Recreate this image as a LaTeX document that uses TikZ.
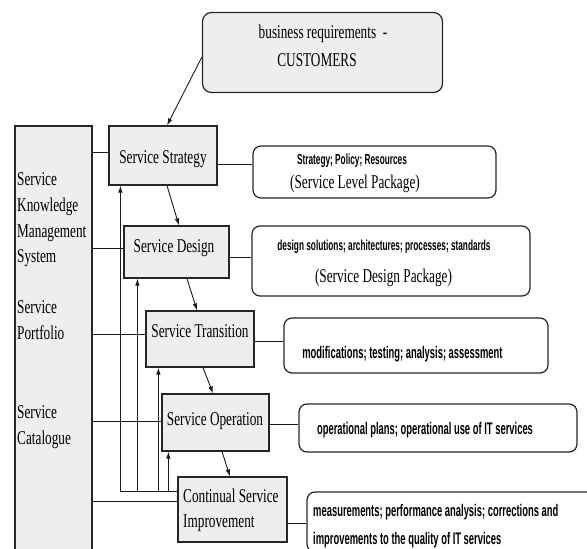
\documentclass[tikz,border=0pt]{standalone}
\usepackage{fontspec}
\setmainfont{Liberation Serif}[FakeStretch=0.68]
\newfontfamily\condsans{Liberation Sans}[FakeStretch=0.57]
\newfontfamily\narrowsans{Liberation Sans}[FakeStretch=0.56]
\usetikzlibrary{arrows.meta}
\definecolor{boxgray}{HTML}{EEEEEE}
\begin{document}
\begin{tikzpicture}[x=1pt,y=-1pt,
  frame/.style={draw=black!85, line width=1.2pt, inner sep=0pt},
  stagebox/.style={frame, fill=boxgray},
  infobox/.style={frame, fill=white, rounded corners=8pt},
  link/.style={draw=black!90, line width=0.9pt},
  arr/.style={link, -{Latex[length=7pt,width=4.5pt]}},
  serif/.style={inner sep=0pt, font=\fontsize{19.5}{26}\selectfont},
  boldinfo/.style={inner sep=0pt, font=\condsans\bfseries\fontsize{14.5}{18}\selectfont},
  plaininfo/.style={inner sep=0pt, font=\narrowsans\bfseries\fontsize{16.8}{20}\selectfont}]
\useasboundingbox (0,0) rectangle (587,549);
\begin{scope}
\clip (0,0) rectangle (587,549);

% customers and the left-hand knowledge column
\node[stagebox, rounded corners=9pt, minimum width=240pt, minimum height=80pt] (cust) at (322.5,52.5) {};
\node[stagebox, minimum width=77pt, minimum height=429pt] (skms) at (53.5,340.5) {};

% lifecycle stages
\node[stagebox, minimum width=108pt, minimum height=59pt] (strat)  at (163,155.5) {};
\node[stagebox, minimum width=105pt, minimum height=52pt] (design) at (176.5,252) {};
\node[stagebox, minimum width=108pt, minimum height=56pt] (trans)  at (200,339) {};
\node[stagebox, minimum width=107pt, minimum height=57pt] (oper)   at (215.5,422.5) {};
\node[stagebox, minimum width=109pt, minimum height=65pt] (csi)    at (232.5,509.5) {};

% outputs of each stage
\node[infobox, minimum width=243pt, minimum height=52pt] (sdet) at (374.5,172) {};
\node[infobox, minimum width=278pt, minimum height=70pt] (ddet) at (391,261) {};
\node[infobox, minimum width=264pt, minimum height=55pt] (tdet) at (416,345.5) {};
\node[infobox, minimum width=278pt, minimum height=48pt] (odet) at (438,428) {};
\node[infobox, minimum width=313pt, minimum height=60pt] (cdet) at (463.5,522) {};

% texts
\node[serif, anchor=base] (custa) at (323,38) {business requirements\ \ -};
\node[serif, anchor=base] (custb) at (317,66) {CUSTOMERS};

\node[serif, anchor=base west] (k1) at (17,185) {Service};
\node[serif, anchor=base west] (k2) at (17,211) {Knowledge};
\node[serif, anchor=base west] (k3) at (17,237) {Management};
\node[serif, anchor=base west] (k4) at (17,262) {System};
\node[serif, anchor=base west] (p1) at (17,313) {Service};
\node[serif, anchor=base west] (p2) at (17,339) {Portfolio};
\node[serif, anchor=base west] (c1) at (17,418) {Service};
\node[serif, anchor=base west] (c2) at (17,444) {Catalogue};

\node[serif, anchor=base] (tstrat)  at (163,163) {Service Strategy};
\node[serif, anchor=base] (tdesign) at (174,252) {Service Design};
\node[serif, anchor=base] (ttrans)  at (200,337) {Service Transition};
\node[serif, anchor=base] (toper)   at (215,425) {Service Operation};
\node[serif, anchor=base west] (tcsi1) at (183,502) {Continual Service};
\node[serif, anchor=base west] (tcsi2) at (183,527) {Improvement};

\node[boldinfo, anchor=base] (s1) at (352,164) {Strategy; Policy; Resources};
\node[serif, anchor=base] (s2) at (355,188) {(Service Level Package)};
\node[boldinfo, anchor=base] (d1) at (384,250) {design solutions; architectures; processes; standards};
\node[serif, anchor=base] (d2) at (383.5,282) {(Service Design Package)};
\node[plaininfo, anchor=base] (t1) at (402.5,358) {modifications; testing; analysis; assessment};
\node[plaininfo, anchor=base] (o1) at (425,434) {operational plans; operational use of IT services};
\node[plaininfo, anchor=base west] (m1) at (313,516) {measurements; performance analysis; corrections and};
\node[plaininfo, anchor=base west] (m2) at (313,544) {improvements to the quality of IT services};

% column to stages
\draw[link] ([yshift=3.5pt]strat.west) -- ([yshift=3.5pt]strat.west -| skms.east);
\draw[link] ([yshift=4pt]design.west) -- ([yshift=4pt]design.west -| skms.east);
\draw[link] ([yshift=5pt]trans.west) -- ([yshift=5pt]trans.west -| skms.east);
\draw[link] ([yshift=1.5pt]oper.west) -- ([yshift=1.5pt]oper.west -| skms.east);
\draw[link] ([yshift=8.5pt]csi.west) -- ([yshift=8.5pt]csi.west -| skms.east);

% stages to outputs
\draw[link] ([yshift=-8.5pt]strat.east) -- ([yshift=-8.5pt]strat.east -| sdet.west);
\draw[link] ([yshift=-5pt]design.east) -- ([yshift=-5pt]design.east -| ddet.west);
\draw[link] ([yshift=-2pt]trans.east) -- ([yshift=-2pt]trans.east -| tdet.west);
\draw[link] ([yshift=-1.5pt]oper.east) -- ([yshift=-1.5pt]oper.east -| odet.west);
\draw[link] ([yshift=-13.5pt]csi.east) -- ([yshift=-13.5pt]csi.east -| cdet.west);

% flow down the lifecycle
\draw[arr] ([yshift=-4.5pt]cust.west) -- ([xshift=4pt]strat.north);
\draw[arr] ([xshift=4pt]strat.south) -- ([xshift=2.5pt]design.north);
\draw[arr] ([xshift=10.5pt]design.south) -- ([xshift=-3pt]trans.north);
\draw[arr] ([xshift=3pt]trans.south) -- ([xshift=-2.5pt]oper.north);
\draw[arr] ([xshift=6.5pt]oper.south) -- ([xshift=-2.5pt]csi.north);

% feedback from improvement to every stage
\coordinate (fb) at ([yshift=18.5pt]csi.west);
\coordinate (fbs) at ([xshift=12pt]strat.south west);
\coordinate (fbd) at ([xshift=14pt]design.south west);
\coordinate (fbt) at ([xshift=13pt]trans.south west);
\coordinate (fbo) at ([xshift=7pt]oper.south west);
\draw[arr] (fb) -| (fbs);
\draw[arr] (fbd |- fb) -- (fbd);
\draw[arr] (fbt |- fb) -- (fbt);
\draw[arr] (fbo |- fb) -- (fbo);
\end{scope}
\end{tikzpicture}
\end{document}
